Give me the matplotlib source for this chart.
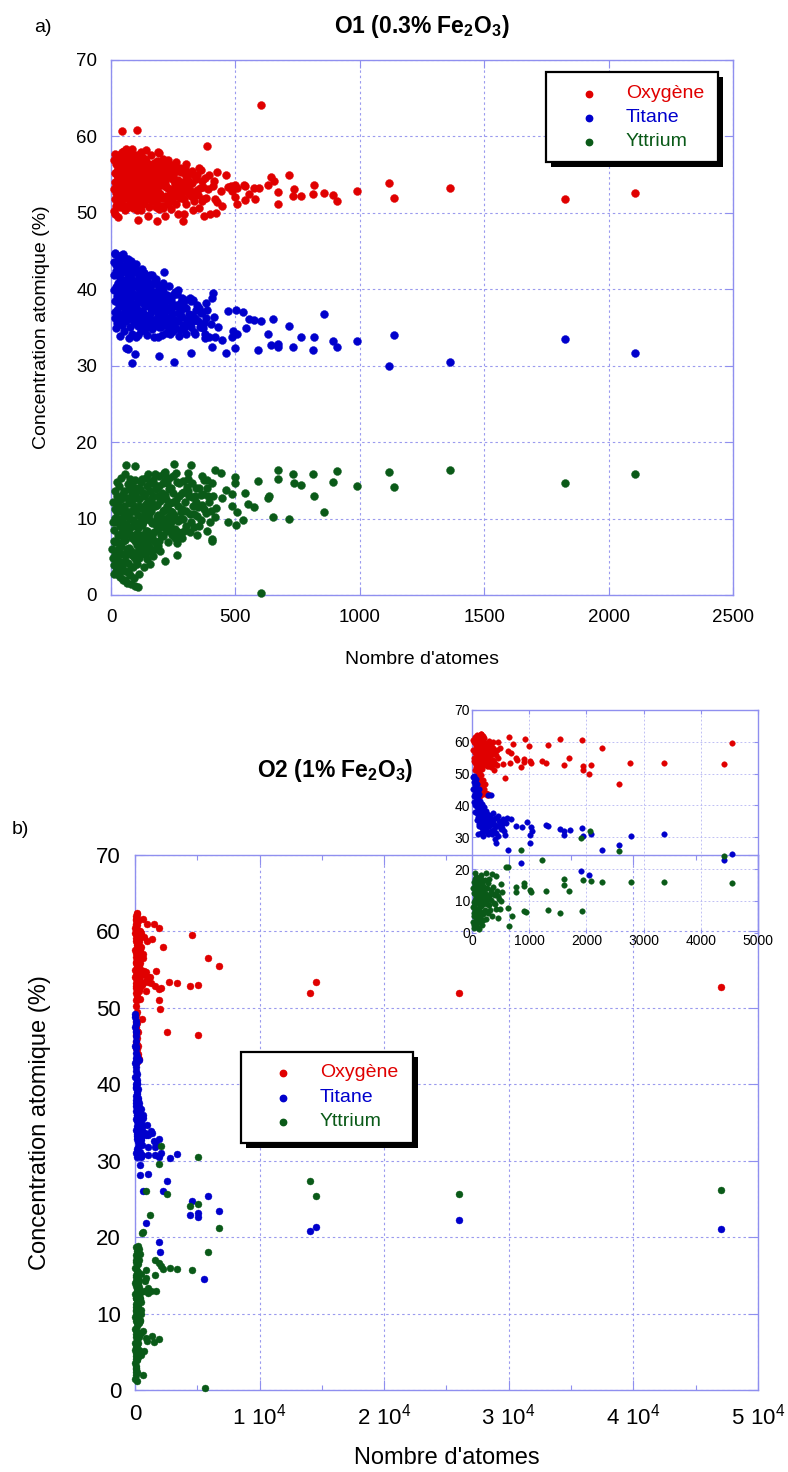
import matplotlib
matplotlib.use('Agg')
import matplotlib.pyplot as plt
from matplotlib.patches import Rectangle
from matplotlib.ticker import MultipleLocator, FuncFormatter

plt.rcParams['font.family'] = ['Liberation Sans', 'DejaVu Sans']
plt.rcParams['mathtext.default'] = 'regular'

# ---------------- data : O1 (0.3% Fe2O3) ----------------
o1_ox = [(12,53.1),(14,55.2),(15,51.8),(17,54.0),(18,56.4),(20,52.6),(21,50.9),(22,55.0),(24,57.2),(25,53.8),
         (27,51.5),(28,56.0),(30,54.5),(31,52.2),(33,57.6),(34,55.6),(36,53.3),(37,50.7),(39,54.8),(40,56.8),
         (42,52.0),(43,57.9),(45,54.2),(46,51.1),(48,55.9),(49,53.6),(51,57.3),(52,52.7),(54,55.1),(55,50.4),
         (57,56.5),(58,53.0),(60,54.6),(61,51.9),(63,57.8),(64,55.4),(66,52.4),(67,56.2),(69,53.9),(70,50.8),
         (72,55.6),(73,57.1),(75,52.9),(76,54.3),(78,51.4),(79,56.7),(81,53.5),(82,55.0),(84,57.5),(85,52.1),
         (87,54.7),(88,50.6),(90,56.0),(91,53.2),(93,55.3),(95,51.7),(96,57.0),(98,54.0),(99,52.5),(101,55.8),
         (103,50.9),(104,53.7),(106,56.4),(108,52.8),(110,54.9),(112,51.3),(114,57.2),(116,53.4),(118,55.5),(120,50.3),
         (122,54.1),(125,52.3),(127,56.1),(130,53.0),(132,55.2),(135,51.6),(138,54.5),(140,56.8),(143,52.7),(146,53.8),
         (149,55.7),(152,50.8),(155,54.2),(158,52.1),(161,56.3),(164,53.5),(167,55.0),(170,51.5),(174,54.4),(178,52.9),
         (182,55.8),(186,53.1),(190,51.0),(194,54.7),(198,52.4),(202,55.3),(206,53.6),(210,50.6),(215,54.0),(220,52.2),
         (225,55.6),(230,53.3),(235,51.4),(240,54.6),(245,52.8),(250,55.0),(256,53.7),(262,51.2),(268,54.3),(274,52.5),
         (280,55.4),(287,53.1),(294,51.8),(300,54.8),(308,52.6),(316,55.2),(324,53.9),(332,51.6),(340,54.4),(350,52.3),
         (360,55.6),(370,53.4),(380,52.0),(395,54.9),(410,53.5),(425,51.4),(355,55.9),
         (11,56.9),(13,50.2),(16,57.7),(19,53.5),(23,51.2),(26,55.5),(29,57.0),(32,53.0),(35,56.3),(38,51.9),
         (41,54.1),(44,56.2),(47,52.5),(50,54.9),(53,58.1),(56,53.4),(59,50.9),(62,56.1),(65,53.7),(68,57.4),
         (71,52.3),(74,54.8),(77,56.9),(80,51.2),(83,55.7),(86,53.3),(89,57.6),(92,51.6),(94,54.5),(97,56.2),
         (100,52.0),(102,57.6),(105,55.0),(109,53.1),(111,56.5),(115,52.4),(117,54.7),(121,56.9),(124,51.9),(128,55.1),
         (133,53.6),(136,57.0),(141,52.1),(144,55.0),(148,53.2),(153,56.0),(157,51.8),(162,54.9),(166,52.6),(171,55.9),
         (176,53.4),(180,50.7),(185,55.3),(192,53.8),(197,56.1),(204,51.9),(212,55.2),(218,53.6),(228,54.8),(238,52.3),
         (248,56.0),(258,53.0),(265,55.5),(278,51.9),(290,54.0),(304,53.2),(320,52.2),(335,54.9),(345,53.0),(365,54.1),
         (390,53.1),(415,54.2),
         (102,51.5),(107,54.2),(113,55.9),(119,52.2),(123,53.3),(126,57.3),(129,51.1),(134,56.0),(139,52.9),(142,54.1),
         (147,56.4),(151,52.0),(154,53.4),(159,55.6),(163,51.6),(168,53.0),(172,56.5),(175,52.4),(179,54.3),(183,51.8),
         (188,56.6),(191,52.6),(195,55.6),(200,53.8),(203,50.9),(208,54.4),(213,52.0),(217,56.3),(222,53.4),(226,51.1),
         (232,55.2),(237,53.0),(242,56.3),(247,51.6),(252,54.2),(259,52.2),(263,56.0),(270,53.6),(276,55.9),(283,52.5),
         (289,55.3),(296,53.7),(302,51.2),(311,54.3),(318,53.0),(327,55.5),(336,52.4),(347,55.0),(357,53.2),(368,51.8),
         (377,54.6),(300,56.4),(260,56.7),(230,56.9),(210,57.0),(160,57.6),(140,58.2),(120,58.0),(60,58.4),(85,58.3),
         (46,60.7),(106,60.8),(603,64.1),(387,58.8),(190,58.0),(193,57.8),(297,55.9),(186,56.8),(244,55.4),(426,55.3),
         (461,55.0),(498,53.7),(472,53.4),(537,53.5),(575,53.3),(594,53.3),(556,52.5),(578,51.8),(539,51.7),(505,51.2),
         (498,52.1),(445,50.9),(421,50.0),(399,49.8),(374,49.6),(330,50.4),(355,50.6),(288,48.9),(271,49.8),(217,49.6),
         (184,48.9),(150,49.6),(107,49.1),(30,49.4),(16,49.9),(106,50.3),(194,50.5),(241,50.5),(293,49.8),(364,51.5),
         (442,52.9),(418,51.8),(485,52.9),(481,53.5),(505,53.3),(536,53.6),(632,53.6),(643,54.7),(655,54.1),(673,52.7),
         (673,51.2),(717,55.0),(737,53.1),(731,52.2),(765,52.2),(816,53.6),(813,52.4),(856,52.6),(892,52.3),(910,51.6),
         (987,52.9),(1116,53.9),(1136,52.0),(1363,53.3),(1824,51.8),(2108,52.6)]

o1_ti = [(12,41.8),(14,38.5),(15,44.6),(17,36.2),(18,40.3),(20,43.2),(21,34.9),(23,39.1),(24,42.0),(26,37.3),
         (27,44.3),(29,35.8),(30,40.8),(32,38.0),(33,43.5),(35,36.6),(36,41.5),(38,33.9),(39,39.6),(41,42.8),
         (42,37.8),(44,44.5),(45,35.3),(47,40.1),(48,38.6),(50,43.0),(51,36.9),(53,41.2),(54,34.5),(56,39.3),
         (57,42.4),(59,37.2),(60,44.0),(62,35.9),(63,40.6),(65,38.3),(66,43.4),(68,36.4),(69,41.8),(71,33.6),
         (72,39.8),(74,42.9),(75,37.6),(77,35.0),(78,40.9),(80,38.9),(81,43.7),(83,36.1),(84,41.4),(86,34.2),
         (87,39.4),(89,42.2),(90,37.0),(92,35.6),(93,40.4),(95,38.1),(96,42.7),(98,36.7),(99,33.8),(101,41.0),
         (103,39.0),(105,37.4),(107,42.0),(109,35.2),(111,40.0),(113,38.4),(115,36.3),(117,41.6),(119,34.6),(121,39.5),
         (124,37.1),(126,40.7),(129,35.7),(131,38.7),(134,42.1),(137,36.5),(140,39.9),(143,34.0),(146,37.9),(149,41.0),
         (152,35.4),(155,38.9),(158,36.8),(161,40.5),(164,34.8),(167,37.5),(170,39.4),(174,35.9),(178,38.2),(182,41.3),
         (186,36.3),(190,33.7),(194,39.0),(198,37.2),(202,35.1),(206,40.2),(210,38.0),(215,36.0),(220,34.3),(225,39.3),
         (230,37.4),(235,35.5),(240,38.6),(245,36.7),(250,34.6),(256,39.6),(262,37.8),(268,35.8),(274,33.9),(280,38.3),
         (287,36.4),(294,34.9),(300,37.6),(308,35.4),(316,38.9),(324,36.6),(332,34.4),(340,37.3),(350,35.8),(360,36.9),
         (370,34.9),(380,36.2),(392,33.8),
         (11,39.9),(13,43.6),(16,37.0),(19,42.4),(22,40.4),(25,35.6),(28,42.9),(31,39.0),(34,44.0),(37,37.9),
         (40,40.5),(43,36.0),(46,42.3),(49,39.7),(52,44.1),(55,37.4),(58,40.8),(61,42.9),(64,36.8),(67,39.2),
         (70,43.9),(73,38.2),(76,41.6),(79,36.9),(82,39.9),(85,42.6),(88,38.0),(91,40.7),(94,36.5),(97,39.3),
         (100,43.3),(102,35.9),(106,40.6),(110,38.8),(114,42.4),(118,36.9),(122,41.2),(127,38.2),(132,40.1),(136,34.8),
         (141,38.5),(147,36.5),(151,39.6),(156,41.9),(160,37.4),(166,35.6),(172,38.8),(176,40.8),(183,37.0),(188,39.8),
         (196,35.8),(204,38.5),(212,36.7),(218,39.1),(228,35.0),(238,37.7),(248,39.3),(258,36.0),(266,38.0),(278,36.8),
         (290,38.0),(305,36.0),(320,35.0),(336,36.3),(355,37.5),(375,35.6),
         (102,37.9),(108,34.0),(112,41.3),(116,39.0),(120,35.5),(123,42.6),(128,36.9),(133,39.2),(138,37.8),(142,41.6),
         (145,35.3),(150,38.3),(153,36.0),(157,40.0),(162,38.0),(165,41.9),(169,36.0),(173,33.8),(177,39.6),(181,35.3),
         (185,37.9),(189,40.6),(193,35.0),(197,38.6),(201,36.4),(205,34.0),(209,39.8),(213,37.2),(217,35.4),(222,38.4),
         (227,36.2),(232,40.4),(237,34.2),(242,37.2),(247,35.8),(253,38.0),(259,35.1),(264,39.4),(271,36.9),(277,34.7),
         (283,37.3),(290,35.3),(297,38.6),(303,34.2),(312,36.8),(320,38.4),(328,35.9),(337,34.2),(346,38.0),(356,35.1),
         (366,37.0),(376,34.1),(386,37.3),(400,35.4),(415,36.4),(430,35.0),
         (16,44.8),(50,44.6),(134,42.1),(214,42.2),(177,41.2),(210,40.8),(271,39.9),(284,38.8),(331,38.6),(411,39.5),
         (404,38.8),(382,38.2),(472,37.2),(501,37.3),(532,37.0),(555,36.1),(575,36.0),(603,35.9),(652,36.1),(630,34.2),
         (717,35.2),(642,32.7),(673,32.8),(673,32.4),(765,33.8),(817,33.8),(856,36.8),(891,33.2),(910,32.5),(987,33.2),
         (733,32.5),(813,32.1),(591,32.0),(498,32.3),(461,31.6),(323,31.6),(255,30.5),(193,31.2),(83,30.3),(96,31.5),
         (70,32.2),(59,32.3),(541,34.9),(505,34.1),(485,33.7),(492,34.6),(445,33.3),(404,32.5),(418,33.7),(378,33.6),
         (1136,34.0),(1116,30.0),(1363,30.5),(1824,33.5),(2108,31.6)]

o1_y = [(5,6.0),(8,4.8),(10,8.5),(12,3.9),(14,11.2),(16,6.9),(18,3.2),(20,9.6),(22,13.0),(24,5.5),
        (26,2.7),(28,7.8),(30,11.8),(32,4.5),(34,14.2),(36,9.0),(38,2.3),(40,6.4),(42,12.5),(44,3.8),
        (46,8.2),(48,10.7),(50,1.9),(52,5.3),(54,13.6),(56,7.2),(58,3.1),(60,11.0),(62,9.3),(64,1.6),
        (66,6.0),(68,14.5),(70,4.2),(72,8.6),(74,12.0),(76,2.6),(78,10.0),(80,5.7),(82,1.4),(84,13.2),
        (86,7.5),(88,3.6),(90,9.8),(92,11.6),(94,5.0),(96,15.0),(98,1.2),(100,8.0),(102,12.8),(104,4.0),
        (106,6.6),(108,10.4),(110,14.0),(113,2.8),(116,7.8),(119,11.4),(122,5.4),(125,9.2),(128,13.4),(131,3.6),
        (134,6.9),(137,10.8),(140,15.3),(143,8.4),(146,4.7),(149,12.2),(152,9.9),(155,6.2),(158,14.6),(161,11.0),
        (164,7.6),(167,5.1),(170,13.0),(174,9.4),(178,15.8),(182,6.8),(186,11.8),(190,8.6),(194,14.2),(198,5.8),
        (202,10.2),(206,12.9),(210,7.7),(215,15.0),(220,9.6),(225,11.7),(230,6.9),(235,13.8),(240,8.8),(245,10.9),
        (250,15.6),(256,7.4),(262,12.4),(268,9.7),(274,14.7),(280,8.1),(287,11.3),(294,13.5),(300,9.0),(308,15.9),
        (316,10.6),(324,12.8),(332,8.9),(340,14.0),(350,11.5),(360,9.8),(370,13.2),(380,10.7),(392,12.1),(405,14.6),
        (6,9.5),(9,12.2),(11,2.8),(13,7.1),(15,10.1),(17,13.6),(19,5.0),(21,7.0),(23,10.9),(25,14.8),
        (27,4.1),(29,9.9),(31,6.1),(33,12.6),(35,3.2),(37,11.1),(39,7.9),(41,15.3),(43,5.4),(45,10.0),
        (47,13.2),(49,7.0),(51,9.0),(53,11.6),(55,4.4),(57,15.8),(59,8.0),(61,5.2),(63,12.7),(65,10.3),
        (67,3.0),(69,8.9),(71,13.9),(73,6.2),(75,10.9),(77,14.6),(79,3.6),(81,7.8),(83,11.0),(85,5.2),
        (87,12.6),(89,9.0),(91,2.2),(93,14.0),(95,7.0),(97,11.0),(99,4.6),(101,9.4),(105,13.6),(109,7.3),
        (112,11.6),(115,5.6),(118,9.6),(121,14.8),(124,7.0),(127,11.5),(130,9.5),(133,13.0),(136,5.4),(139,8.4),
        (142,11.9),(145,14.2),(148,6.6),(151,10.6),(156,8.0),(160,12.5),(165,9.4),(169,15.0),(173,7.1),(177,11.7),
        (181,13.8),(185,9.0),(189,10.5),(193,7.0),(197,12.3),(204,9.0),(208,14.6),(213,11.1),(218,13.1),(223,8.4),
        (228,10.2),(233,15.3),(238,12.0),(243,9.6),(248,13.4),(253,10.5),(259,8.6),(265,14.8),(271,11.7),(277,10.0),
        (284,13.3),(291,9.9),(298,12.1),(304,14.1),(312,12.9),(320,9.6),(328,11.6),(336,13.0),(345,10.3),(355,14.0),
        (365,11.8),(375,15.1),(388,12.9),(400,11.0),
        (103,5.6),(107,8.8),(111,12.5),(114,4.9),(117,13.9),(120,6.3),(123,10.2),(126,15.2),(129,7.2),(132,11.2),
        (135,8.0),(138,13.2),(141,6.0),(144,9.9),(147,15.8),(150,7.3),(154,11.6),(157,13.6),(159,5.6),(163,9.6),
        (166,12.0),(171,8.3),(175,14.4),(179,6.0),(183,10.2),(187,12.9),(191,15.6),(195,9.6),(199,7.8),(203,13.3),
        (207,11.0),(211,15.9),(216,8.8),(221,12.5),(226,14.6),(231,9.0),(236,11.0),(241,14.0),(246,7.9),(251,12.1),
        (257,10.0),(263,16.0),(269,8.2),(275,12.9),(282,10.8),(288,14.9),(295,8.4),(302,11.0),(310,13.6),(318,8.2),
        (326,14.6),(334,10.6),(342,12.2),(352,9.0),(362,13.1),(372,11.3),(384,14.0),(396,9.6),(410,12.9),(420,11.4),
        (59,17.0),(96,16.9),(255,17.2),(323,17.0),(418,16.4),(444,16.0),(218,16.1),(76,15.2),(83,14.6),(364,15.6),
        (385,15.1),(311,15.2),(500,15.5),(592,14.9),(673,16.4),(673,15.2),(733,15.8),(737,14.7),(765,14.4),(813,15.8),
        (817,13.0),(856,10.9),(894,14.8),(910,16.2),(987,14.2),(652,10.2),(715,10.0),(632,12.7),(636,12.9),(575,11.5),
        (552,11.9),(532,9.8),(503,9.2),(472,9.5),(505,10.8),(485,11.6),(539,13.4),(485,13.2),(499,14.6),(461,13.7),
        (445,12.7),(417,10.2),(385,8.4),(404,7.3),(407,7.0),(347,7.8),(287,7.5),(264,6.8),(264,5.2),(217,4.4),
        (190,6.4),(157,4.0),(107,1.0),(16,5.2),(56,2.0),(603,0.2),
        (1116,16.1),(1136,14.1),(1363,16.3),(1824,14.7),(2108,15.8)]

# ---------------- data : O2 (1% Fe2O3) ----------------
o2_ox = [(20,57.5),(30,55.0),(35,59.8),(45,53.2),(50,61.5),(55,56.6),(60,51.0),(65,58.8),(70,54.3),(75,60.4),
         (80,52.6),(85,57.2),(90,55.8),(95,62.0),(100,53.9),(105,59.1),(110,50.2),(115,56.0),(120,61.0),(125,54.8),
         (130,58.2),(135,52.0),(140,60.0),(145,55.3),(150,57.8),(155,62.4),(160,53.5),(165,59.5),(170,56.4),(175,51.5),
         (180,60.8),(185,54.5),(190,58.6),(195,52.8),(200,57.0),(205,61.3),(210,55.1),(215,59.9),(220,53.0),(225,57.4),
         (230,54.0),(240,59.3),(250,56.0),(260,52.3),(270,58.4),(280,54.7),(290,60.1),(300,55.5),(310,57.6),(320,53.4),
         (330,59.0),(340,55.9),(350,52.7),(360,58.1),(375,54.2),(390,56.9),(410,53.1),(430,57.5),(450,55.0),
         (25,60.5),(40,54.0),(58,59.6),(68,52.0),(88,60.8),(98,54.9),(108,57.5),(118,52.8),(128,60.2),(138,55.6),
         (148,51.0),(158,58.5),(168,54.0),(178,57.0),(188,61.7),(198,55.8),(208,52.9),(218,58.0),(228,56.2),(245,54.9),
         (265,57.3),(285,52.5),(305,58.6),(325,56.7),(345,54.0),(365,60.0),(385,53.5),(420,55.8),
         (70,49.0),(90,47.5),(110,46.5),(130,45.2),(150,44.0),(170,46.0),(190,43.5),(210,45.0),(240,44.0),(260,43.2),
         (280,43.6),(300,43.3),(120,48.2),(200,48.0),(160,49.5),(95,44.8),(140,42.9),(160,47.0),(100,45.5),(220,46.8),
         (180,44.6),
         (76,61.6),(152,62.3),(653,61.6),(927,60.9),(1000,58.8),(1329,59.0),(1544,61.0),(1923,60.4),(2279,58.0),(4551,59.5),
         (2762,53.4),(3351,53.2),(4400,52.9),(2570,46.8),(2075,52.6),(2040,49.9),(1935,51.0),(1940,52.5),(1702,54.8),(1600,52.8),
         (1288,53.2),(1218,54.0),(1037,53.4),(1008,54.0),(909,54.7),(915,53.5),(793,54.3),(763,54.8),(862,52.2),(577,48.5),
         (676,56.5),(624,57.1),(460,59.8),(717,59.3),(484,58.0),(542,53.0),(659,53.2),(437,52.7),(338,52.2),(379,51.2),
         (5093,53.0),(5093,46.5),(5867,56.5),(6747,55.5),(14053,51.9),(14507,53.4),(26000,52.0),(47000,52.7)]

o2_ti = [(20,48.8),(30,47.5),(40,49.2),(45,46.3),(50,44.8),(55,47.9),(60,43.5),(65,45.6),(70,42.2),(75,48.3),
         (80,40.9),(85,44.1),(90,46.8),(95,39.6),(100,42.8),(105,41.7),(110,38.4),(115,45.0),(120,37.2),(125,40.2),
         (130,43.7),(135,36.0),(140,39.0),(145,41.3),(150,35.2),(155,38.0),(160,37.0),(165,33.9),(170,40.5),(175,36.4),
         (180,34.6),(185,38.7),(190,35.5),(195,37.6),(200,33.2),(205,36.8),(210,39.4),(215,34.2),(220,37.9),(225,32.5),
         (230,35.9),(240,38.2),(250,36.5),(260,34.0),(270,37.3),(280,43.3),(280,30.9),(290,35.1),(300,33.4),(310,36.7),
         (326,43.2),(330,32.0),(340,35.4),(360,37.6),(380,34.3),(396,36.0),(408,29.4),(425,31.2),(425,28.1),(440,33.5),
         (460,36.8),(484,34.4),(500,32.7),(530,34.0),(542,35.6),(571,30.7),(163,31.2),(163,33.9),(120,34.0),(90,35.5),
         (60,38.0),(40,41.0),(100,31.0),(200,30.5),
         (25,45.0),(35,42.8),(50,40.0),(65,47.0),(80,37.5),(95,43.0),(105,36.5),(115,39.5),(130,33.5),(145,37.0),
         (155,40.0),(170,32.8),(185,36.0),(195,31.5),(210,35.0),(235,33.0),(255,31.8),(275,35.8),(300,37.0),(320,33.8),
         (350,31.0),(370,35.3),(390,32.6),(450,30.5),(470,35.0),(520,33.0),(600,34.5),(560,32.0),
         (629,26.1),(618,36.0),(682,35.6),(775,33.6),(868,33.3),(956,34.7),(1008,30.7),(1026,33.3),(1049,31.8),(1008,28.3),
         (1288,33.9),(1329,33.6),(1533,32.6),(1608,31.8),(1602,30.7),(1719,32.2),(1923,32.9),(1940,30.5),(2075,31.0),(2279,26.1),
         (2570,27.4),(2779,30.3),(3351,30.9),(4551,24.7),(4400,22.9),(851,21.9),(1906,19.4),(2045,18.0),
         (5093,23.1),(5093,22.6),(5893,25.4),(6747,23.4),(5573,14.5),(14053,20.8),(14507,21.3),(26000,22.3),(47000,21.0)]

o2_y = [(20,3.5),(25,8.0),(30,12.5),(35,1.5),(40,6.2),(45,10.4),(50,15.0),(55,2.8),(60,9.0),(65,13.6),
        (70,4.8),(75,11.2),(80,1.9),(85,7.3),(90,16.8),(95,5.6),(100,12.0),(105,9.8),(110,3.2),(115,14.3),
        (120,7.9),(125,10.9),(130,1.2),(135,5.0),(140,17.4),(145,11.8),(150,8.4),(155,3.9),(160,13.2),(165,6.6),
        (170,10.0),(175,15.6),(180,2.4),(185,12.6),(190,8.9),(195,5.9),(200,14.8),(210,11.4),(220,7.0),(230,16.5),
        (240,9.5),(250,4.3),(260,13.9),(270,11.0),(280,6.1),(290,17.0),(300,8.8),(315,12.3),(330,10.3),(345,5.2),
        (360,14.4),(380,9.2),(400,11.9),(420,7.5),(440,13.0),(460,4.6),(480,10.5),(500,15.2),(520,12.8),(350,18.4),
        (250,18.9),(420,17.8),(150,18.2),(70,17.6),
        (22,14.0),(28,5.2),(33,9.5),(38,16.0),(42,2.4),(48,12.0),(53,7.0),(58,17.0),(63,4.0),(68,10.8),
        (78,14.8),(83,6.0),(88,2.9),(98,10.5),(108,16.0),(118,4.5),(128,14.0),(138,9.0),(148,13.0),(158,6.0),
        (168,16.5),(178,11.2),(188,4.0),(198,9.8),(215,14.0),(235,12.5),(255,9.0),(275,15.5),(295,11.5),(320,7.0),
        (340,13.5),(370,12.0),(410,9.0),(450,11.5),(490,7.5),(510,10.0),
        (2057,31.9),(1900,29.6),(851,26.1),(2570,25.6),(4400,24.1),(1224,22.9),(589,20.6),(635,20.7),(47,18.7),(1602,17.0),
        (1608,15.0),(1702,13.0),(1940,16.6),(2075,16.2),(2279,15.8),(2779,16.0),(3351,15.8),(4551,15.7),(1288,13.0),(1008,13.3),
        (1037,12.7),(909,14.7),(903,15.7),(775,14.3),(763,12.9),(1329,7.1),(1538,6.3),(1917,6.7),(903,6.8),(950,6.4),
        (629,7.7),(705,5.1),(641,2.0),
        (5093,30.5),(5093,24.3),(5893,18.1),(6747,21.2),(5600,0.3),(14053,27.3),(14507,25.4),(26000,25.6),(47000,26.2)]

labels = ['Oxygène', 'Titane', 'Yttrium']
x_ticks_b = [0, 10000, 20000, 30000, 40000, 50000]

# ---------------- styling ----------------
RED = '#e00000'
BLUE = '#0000cc'
GREEN = '#0a5a18'
colors = [RED, BLUE, GREEN]
AXC = '#8f8fef'
GRIDC = '#9a9aee'

fig = plt.figure(figsize=(7.88, 14.72), dpi=100)
ax1 = fig.add_axes([0.1409, 0.5958, 0.7893, 0.3635])
ax2 = fig.add_axes([0.1713, 0.0557, 0.7906, 0.3635])
ax3 = fig.add_axes([0.599, 0.3664, 0.363, 0.1513])
ax3.patch.set_alpha(0)


def style(ax, fs, tl, pad, gridc=GRIDC, glw=0.8):
    for s in ax.spines.values():
        s.set_color(AXC)
        s.set_linewidth(1.0)
    ax.tick_params(which='major', direction='in', length=tl, width=0.8, color=AXC,
                   labelsize=fs, top=True, right=True, pad=pad)
    ax.tick_params(which='minor', direction='in', length=tl * 0.55, width=0.8, color=AXC,
                   top=True, right=True)
    ax.grid(True, which='major', color=gridc, linestyle=(0, (2.2, 2.6)), linewidth=glw)
    ax.set_axisbelow(True)


def draw(ax, series, ms, clip=False):
    for pts, c in zip(series, colors):
        xs = [p[0] for p in pts]
        ys = [p[1] for p in pts]
        ax.plot(xs, ys, linestyle='none', marker='o', ms=ms, mfc=c, mec=c, mew=0.3,
                clip_on=clip, zorder=3)


def legend_box(ax, x0, x1, y0, y1, mx, tx, rows, fs, ms, sx, sy):
    ax.add_patch(Rectangle((x0 + sx, y0 - sy), x1 - x0, y1 - y0, transform=ax.transAxes,
                           facecolor='black', edgecolor='black', lw=0, zorder=6, clip_on=False))
    ax.add_patch(Rectangle((x0, y0), x1 - x0, y1 - y0, transform=ax.transAxes,
                           facecolor='white', edgecolor='black', lw=1.6, zorder=7, clip_on=False))
    for lab, c, ry in zip(labels, colors, rows):
        ax.plot([mx], [ry], 'o', ms=ms, color=c, transform=ax.transAxes, zorder=8, clip_on=False)
        ax.text(tx, ry, lab, color=c, fontsize=fs, ha='left', va='center',
                transform=ax.transAxes, zorder=8)


# ---------- top panel ----------
style(ax1, 13.5, 6, 10)
draw(ax1, [o1_ox, o1_ti, o1_y], 5.7)
ax1.set_xlim(0, 2500)
ax1.set_ylim(0, 70)
ax1.xaxis.set_major_locator(MultipleLocator(500))
ax1.yaxis.set_major_locator(MultipleLocator(10))
ax1.set_xlabel("Nombre d'atomes", fontsize=14, va='center')
ax1.xaxis.set_label_coords(0.5, -0.121)
ax1.set_ylabel('Concentration atomique (%)', fontsize=14, va='center')
ax1.yaxis.set_label_coords(-0.112, 0.5)
legend_box(ax1, 0.700, 0.976, 0.809, 0.977, 0.768, 0.828, [0.937, 0.892, 0.847], 14, 4.6, 0.008, 0.0095)

fig.text(422 / 788, 1 - 27 / 1472, r'O1 (0.3% Fe$_2$O$_3$)', fontsize=16.5, fontweight='bold',
         ha='center', va='center')
fig.text(43 / 788, 1 - 27 / 1472, 'a)', fontsize=14, ha='center', va='center')

# ---------- bottom panel ----------
style(ax2, 16, 7, 10)
draw(ax2, [o2_ox, o2_ti, o2_y], 5.0)
ax2.set_xlim(0, 50000)
ax2.set_ylim(0, 70)
ax2.set_xticks(x_ticks_b)
ax2.xaxis.set_minor_locator(MultipleLocator(5000))
ax2.yaxis.set_major_locator(MultipleLocator(10))
ax2.xaxis.set_major_formatter(FuncFormatter(
    lambda v, p: '0' if v == 0 else r'$%d\ 10^{4}$' % int(round(v / 10000))))
ax2.set_xlabel("Nombre d'atomes", fontsize=17, va='center')
ax2.xaxis.set_label_coords(0.5, -0.127)
ax2.set_ylabel('Concentration atomique (%)', fontsize=17, va='center')
ax2.yaxis.set_label_coords(-0.152, 0.5)
legend_box(ax2, 0.170, 0.446, 0.4617, 0.6318, 0.2376, 0.297, [0.5925, 0.5458, 0.5009], 14, 4.6, 0.008, 0.0095)

fig.text(335 / 788, 1 - 771 / 1472, r'O2 (1% Fe$_2$O$_3$)', fontsize=16.5, fontweight='bold',
         ha='center', va='center')
fig.text(20 / 788, 1 - 830 / 1472, 'b)', fontsize=14, ha='center', va='center')

# ---------- inset ----------
style(ax3, 10, 3, 1.5, gridc='#b4b4f2', glw=0.6)
ax3.spines['bottom'].set_visible(False)
ins = []
for pts in (o2_ox, o2_ti, o2_y):
    ins.append([p for p in pts if p[0] <= 5000])
draw(ax3, ins, 4.0)
ax3.set_xlim(0, 5000)
ax3.set_ylim(0, 70)
ax3.xaxis.set_major_locator(MultipleLocator(1000))
ax3.yaxis.set_major_locator(MultipleLocator(10))
ax3.tick_params(axis='x', pad=1)

fig.savefig('out.png', dpi=100)
